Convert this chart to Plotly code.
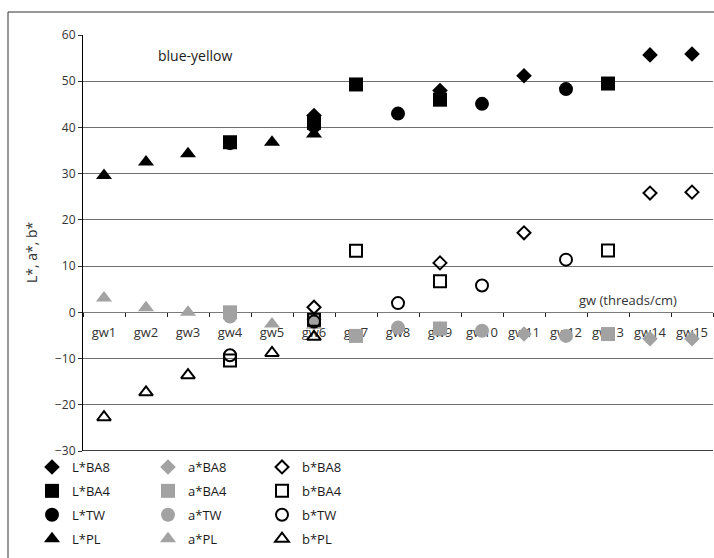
import plotly.graph_objects as go

# Fabric samples (weave density classes)
categories = ["gw1", "gw2", "gw3", "gw4", "gw5", "gw6", "gw7", "gw8",
              "gw9", "gw10", "gw11", "gw12", "gw13", "gw14", "gw15"]

# CIELAB coordinates per sample group; None where the group has no sample
L_BA8 = [None, None, None, None, None, 42.6, None, None, 48.0, None, 51.2, None, None, 55.7, 55.9]
L_BA4 = [None, None, None, 36.8, None, 41.0, 49.3, None, 46.0, None, None, None, 49.5, None, None]
L_TW = [None, None, None, 36.6, None, 40.3, None, 43.0, None, 45.1, None, 48.3, None, None, None]
L_PL = [29.6, 32.5, 34.3, None, 36.8, 38.6, None, None, None, None, None, None, None, None, None]

a_BA8 = [None, None, None, None, None, -1.5, None, None, -3.6, None, -4.7, None, None, -5.7, -5.7]
a_BA4 = [None, None, None, 0.0, None, -1.6, -5.1, None, -3.5, None, None, None, -4.7, None, None]
a_TW = [None, None, None, -0.9, None, -2.2, None, -3.3, None, -4.0, None, -5.1, None, None, None]
a_PL = [3.1, 1.0, 0.0, None, -2.5, -2.8, None, None, None, None, None, None, None, None, None]

b_BA8 = [None, None, None, None, None, 1.1, None, None, 10.7, None, 17.2, None, None, 25.8, 26.0]
b_BA4 = [None, None, None, -10.4, None, -1.6, 13.3, None, 6.7, None, None, None, 13.4, None, None]
b_TW = [None, None, None, -9.3, None, -2.0, None, 2.0, None, 5.8, None, 11.4, None, None, None]
b_PL = [-22.7, -17.3, -13.6, None, -8.8, -5.3, None, None, None, None, None, None, None, None, None]

y_ticks = [-30, -20, -10, 0, 10, 20, 30, 40, 50, 60]

BLACK = "#000000"
GRAY = "#a2a2a2"
FONT = "Open Sans"

series = [
    # (name, values, symbol, colour, legend column)
    ("L*BA8", L_BA8, "diamond", BLACK, "legend"),
    ("L*BA4", L_BA4, "square", BLACK, "legend"),
    ("L*TW", L_TW, "circle", BLACK, "legend"),
    ("L*PL", L_PL, "triangle-up", BLACK, "legend"),
    ("a*BA8", a_BA8, "diamond", GRAY, "legend2"),
    ("a*BA4", a_BA4, "square", GRAY, "legend2"),
    ("a*TW", a_TW, "circle", GRAY, "legend2"),
    ("a*PL", a_PL, "triangle-up", GRAY, "legend2"),
    ("b*BA8", b_BA8, "diamond-open", BLACK, "legend3"),
    ("b*BA4", b_BA4, "square-open", BLACK, "legend3"),
    ("b*TW", b_TW, "circle-open", BLACK, "legend3"),
    ("b*PL", b_PL, "triangle-up-open", BLACK, "legend3"),
]

sizes = {"diamond": 12, "square": 14, "circle": 14, "triangle-up": 14}

fig = go.Figure()
for name, values, symbol, colour, legend in series:
    base = symbol.replace("-open", "")
    is_open = symbol.endswith("-open")
    fig.add_trace(go.Scatter(
        x=categories,
        y=values,
        name=name,
        mode="markers",
        legend=legend,
        legendgroup=name,
        marker=dict(
            symbol=symbol,
            size=sizes[base] - (2 if is_open else 0),
            color=colour,
            line=dict(color=colour, width=2 if is_open else 0),
        ),
    ))

# Plot area geometry (pixels) used to place the frame and legends
W, H = 714, 558
L_M, R_M, T_M, B_M = 83, 1, 35, 107
PW, PH = W - L_M - R_M, H - T_M - B_M


def px_x(p):
    return (p - L_M) / PW


def px_y(p):
    return (H - B_M - p) / PH


legend_common = dict(
    orientation="v",
    yanchor="top",
    xanchor="left",
    y=px_y(452),
    bgcolor="rgba(0,0,0,0)",
    font=dict(family=FONT, size=13, color="#1a1a1a"),
    tracegroupgap=4,
    itemclick=False,
    itemdoubleclick=False,
)

fig.update_layout(
    width=W,
    height=H,
    margin=dict(l=L_M, r=R_M, t=T_M, b=B_M, pad=0, autoexpand=False),
    paper_bgcolor="white",
    plot_bgcolor="white",
    font=dict(family=FONT, size=12, color="#333333"),
    showlegend=True,
    legend=dict(x=px_x(32), **legend_common),
    legend2=dict(x=px_x(148), **legend_common),
    legend3=dict(x=px_x(262), **legend_common),
    xaxis=dict(
        type="category",
        categoryorder="array",
        categoryarray=categories,
        range=[-0.5, len(categories) - 0.5],
        anchor="free",
        position=(0 - y_ticks[0]) / (y_ticks[-1] - y_ticks[0]),
        showline=True,
        linecolor="#7a7a7a",
        linewidth=1.2,
        ticks="outside",
        tickson="boundaries",
        ticklen=4,
        tickcolor="#222222",
        showgrid=False,
        zeroline=False,
        layer="below traces",
        tickfont=dict(family=FONT, size=13, color="#333333"),
        ticklabelstandoff=8,
    ),
    yaxis=dict(
        range=[y_ticks[0], y_ticks[-1]],
        tickvals=y_ticks,
        ticktext=[str(v).replace("-", "\u2212") for v in y_ticks],
        showline=True,
        linecolor="#000000",
        linewidth=1.2,
        ticks="outside",
        ticklen=4,
        tickcolor="#333333",
        showgrid=True,
        gridcolor="#6f6f6f",
        gridwidth=1,
        zeroline=False,
        tickfont=dict(family=FONT, size=12, color="#333333"),
    ),
    shapes=[
        # baseline of the value axis
        dict(type="line", xref="paper", yref="y", x0=0, x1=1,
             y0=y_ticks[0], y1=y_ticks[0], line=dict(color="#000000", width=1.5)),
        # outer chart frame
        dict(type="rect", xref="paper", yref="paper",
             x0=px_x(8), x1=px_x(760), y0=px_y(600), y1=px_y(12),
             line=dict(color="#333333", width=1), layer="below"),
    ],
    annotations=[
        dict(text="blue-yellow", xref="paper", yref="paper",
             x=px_x(195), y=px_y(55), xanchor="center", yanchor="middle",
             showarrow=False,
             font=dict(family=FONT, size=14, color="#1a1a1a")),
        dict(text="gw (threads/cm)", xref="paper", yref="paper",
             x=px_x(628), y=px_y(300), xanchor="center", yanchor="middle",
             showarrow=False,
             font=dict(family=FONT, size=13, color="#333333")),
        dict(text="L*, a*, b*", xref="paper", yref="paper",
             x=px_x(31), y=px_y(252), xanchor="center", yanchor="middle",
             showarrow=False, textangle=-90,
             font=dict(family=FONT, size=14, color="#333333")),
    ],
)

fig.write_html("out.html")
